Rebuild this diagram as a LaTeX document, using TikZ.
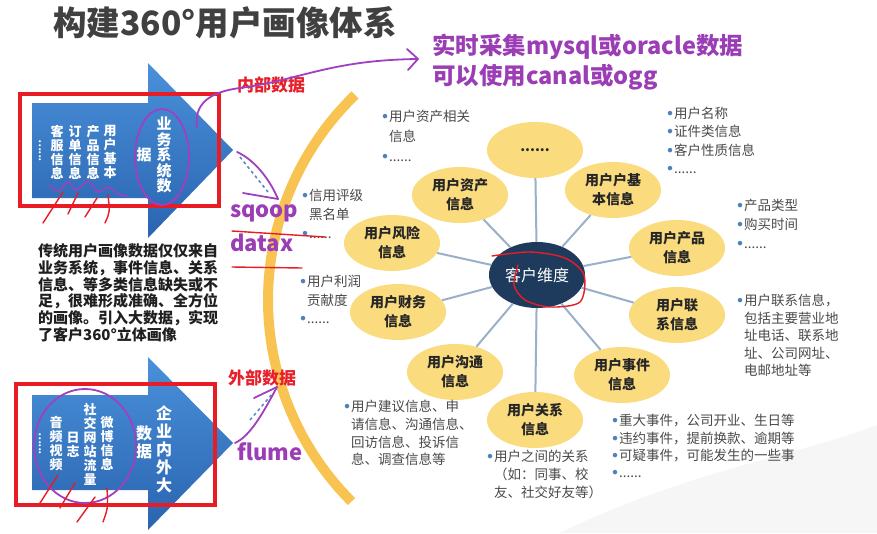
\documentclass[tikz,border=0pt]{standalone}
\usepackage{fontspec}
\setmainfont{Noto Sans CJK SC}
\usetikzlibrary{shapes.geometric}
\definecolor{titlegray}{HTML}{404040}
\definecolor{annpurple}{HTML}{9B3DB5}
\definecolor{handpurple}{HTML}{A040C0}
\definecolor{annred}{HTML}{E8202A}
\definecolor{boxred}{HTML}{E81C24}
\definecolor{arrowtop}{HTML}{4A90DA}
\definecolor{arrowbot}{HTML}{2A64B0}
\definecolor{arcyellow}{HTML}{F8C350}
\definecolor{ellfill}{HTML}{FADB7E}
\definecolor{navy}{HTML}{1E3A5C}
\definecolor{conncol}{HTML}{9AB0C8}
\definecolor{txtgray}{HTML}{4A4A4A}
\definecolor{bulblue}{HTML}{4F81BD}
\definecolor{dashblue}{HTML}{5A8AC0}
\newcommand\bu{\makebox[8pt][c]{\makebox[0pt]{\raisebox{3pt}{\textcolor{bulblue}{\fontsize{5}{5}\selectfont ●}}}}}
\newcommand\ind{\hspace*{8pt}}
\tikzset{
  ell/.style={ellipse, fill=ellfill, minimum width=96pt, minimum height=56pt, inner sep=0pt, align=center, font=\bfseries\fontsize{14}{19}\selectfont, text=black!85},
  vt/.style={align=center, text=white, font=\bfseries\fontsize{13}{14}\selectfont, inner sep=0pt},
  vtbig/.style={align=center, text=white, font=\bfseries\fontsize{15}{15.5}\selectfont, inner sep=0pt},
  blist/.style={align=left, anchor=north west, text=txtgray, inner sep=0pt},
  conn/.style={draw=conncol, line width=2pt},
  hand/.style={draw=handpurple, line width=1.8pt, line cap=round, line join=round},
  redhand/.style={draw=boxred, line width=1.4pt, line cap=round, line join=round},
  redbox/.style={draw=boxred, line width=4pt},
  purtext/.style={text=annpurple, font=\bfseries\fontsize{22}{24}\selectfont, inner sep=0pt, anchor=west},
  redtext/.style={text=annred, font=\bfseries\fontsize{17}{18}\selectfont, inner sep=0pt, anchor=west},
  dashline/.style={draw=dashblue, line width=1.5pt, dashed},
}
\begin{document}
\begin{tikzpicture}[x=1pt,y=-1pt]
\useasboundingbox (0,0) rectangle (877,533);
\fill[white] (0,0) rectangle (877,533);
% faint background swoosh
\fill[gray!7] (560,533) .. controls (690,470) and (800,455) .. (877,425) -- (877,533) -- cycle;

% title
\node[text=titlegray, font=\bfseries\fontsize{33.5}{35}\selectfont, inner sep=0pt] (title) at (225,23) {构建360°用户画像体系};

% annotation text top right
\node[purtext, font=\bfseries\fontsize{23.5}{25}\selectfont] (rt1) at (432,47) {实时采集mysql或oracle数据};
\node[purtext, font=\bfseries\fontsize{23.5}{25}\selectfont] (rt2) at (432,77) {可以使用canal或ogg};

% yellow arc
\draw[arcyellow, line width=10pt] plot[domain=134:225, samples=50] ({553+285*cos(\x)},{300-285*sin(\x)});

% upper block arrow
\shade[top color=arrowtop, bottom color=arrowbot] (32,103) -- (148,103) -- (148,63) -- (233,150) -- (148,238) -- (148,198) -- (32,198) -- cycle;
\node[vt] (u1) at (110,152) {用\\户\\基\\本};
\node[vt] (u2) at (93,152) {产\\品\\信\\息};
\node[vt] (u3) at (75,152) {订\\单\\信\\息};
\node[vt] (u4) at (57,152) {客\\服\\信\\息};
\node[vt, rotate=90, font=\bfseries\fontsize{10}{10}\selectfont] (u5) at (40,151) {......};
\node[vtbig] (u6) at (164,155) {业\\务\\系\\统\\数};
\node[vtbig] (u7) at (144,155) {据};

% lower block arrow
\shade[top color=arrowtop, bottom color=arrowbot] (32,395) -- (148,395) -- (148,357) -- (233,443) -- (148,530) -- (148,490) -- (32,490) -- cycle;
\node[vtbig, font=\bfseries\fontsize{16}{18}\selectfont] (l1) at (164,449) {企\\业\\内\\外\\大};
\node[vtbig, font=\bfseries\fontsize{16}{18}\selectfont] (l2) at (144,442) {数\\据};
\node[vt] (l3) at (107,443) {微\\博\\信\\息};
\node[vt] (l4) at (90,444) {社\\交\\网\\站\\流\\量};
\node[vt] (l5) at (73,445) {日\\志};
\node[vt] (l6) at (56,444) {音\\频\\视\\频};
\node[vt, rotate=90, font=\bfseries\fontsize{10}{10}\selectfont] (l7) at (40,444) {......};

% red boxes
\draw[redbox] (20,94) rectangle (219,206);
\draw[redbox] (16,384) rectangle (215,505);

% paragraph
\node[align=left, anchor=north west, inner sep=0pt, text=black!88, font=\bfseries\fontsize{15}{16.9}\selectfont] (para) at (38,243)
 {传统用户画像数据仅仅来自\\业务系统，事件信息、关系\\信息、等多类信息缺失或不\\足，很难形成准确、全方位\\的画像。引入大数据，实现\\了客户360°立体画像};

% red labels
\node[redtext] (nb) at (237,85) {内部数据};
\node[redtext] (wb) at (228,378) {外部数据};

% purple tool names
\node[purtext] (sq) at (230,213) {sqoop};
\node[purtext] (dx) at (230,243) {datax};
\node[purtext] (fl) at (237,452) {flume};

% satellites
\node[ell] (e0) at (535,150) {......};
\node[ell] (e1) at (613,190) {用户户基\\本信息};
\node[ell] (e2) at (677,248) {用户产品\\信息};
\node[ell] (e3) at (677,315) {用户联\\系信息};
\node[ell] (e4) at (622,375) {用户事件\\信息};
\node[ell] (e5) at (535,420) {用户关系\\信息};
\node[ell] (e6) at (455,372) {用户沟通\\信息};
\node[ell] (e7) at (398,312) {用户财务\\信息};
\node[ell] (e8) at (392,243) {用户风险\\信息};
\node[ell] (e9) at (460,195) {用户资产\\信息};
% central node
\node[ellipse, fill=navy, minimum width=96pt, minimum height=66pt, inner sep=0pt, text=white, font=\fontsize{16}{18}\selectfont] (c) at (537,275) {客户维度};
\foreach \e in {e0,e1,e2,e3,e4,e5,e6,e7,e8,e9} \draw[conn] (c) -- (\e);

% bullet lists
\node[blist, font=\fontsize{13.5}{20}\selectfont] (ba) at (381,110) {\bu 用户资产相关\\\ind 信息\\\bu ......};
\node[blist, font=\fontsize{13.5}{19}\selectfont] (bb) at (301,189) {\bu 信用评级\\\ind 黑名单\\\bu ......};
\node[blist, font=\fontsize{13.5}{18.5}\selectfont] (bc) at (299,275) {\bu 用户利润\\\ind 贡献度\\\bu ......};
\node[blist, font=\fontsize{13.5}{17.7}\selectfont] (bd) at (343,400) {\bu 用户建议信息、申\\\ind 请信息、沟通信息、\\\ind 回访信息、投诉信\\\ind 息、调查信息等};
\node[blist, font=\fontsize{13.5}{18}\selectfont] (be) at (486,450) {\bu 用户之间的关系\\\ind （如：同事、校\\\ind 友、社交好友等）};
\node[blist, font=\fontsize{13.5}{17.4}\selectfont] (bf) at (611,414) {\bu 重大事件，公司开业、生日等\\\bu 违约事件，提前换款、逾期等\\\bu 可疑事件，可能发生的一些事\\\bu ......};
\node[blist, font=\fontsize{13.5}{17.5}\selectfont] (bg) at (736,294) {\bu 用户联系信息，\\\ind 包括主要营业地\\\ind 址电话、联系地\\\ind 址、公司网址、\\\ind 电邮地址等};
\node[blist, font=\fontsize{13.5}{19}\selectfont] (bh) at (736,199) {\bu 产品类型\\\bu 购买时间\\\bu ......};
\node[blist, font=\fontsize{13.5}{18.3}\selectfont] (bi) at (666,107) {\bu 用户名称\\\bu 证件类信息\\\bu 客户性质信息\\\bu ......};

% ---- hand annotations ----
% dashed blue arrows
\draw[dashline] (240,157) -- (268,192);
\draw[dashline] (250,420) -- (273,393);
% upper purple ellipse and curve to note
\draw[hand] (162,157) ellipse [x radius=27pt, y radius=48pt];
\coordinate (p0) at (197,127);
\coordinate (p1) at (418,59);
\draw[hand] (p0) .. controls (194,105) and (208,92) .. (240,88) .. controls (300,80) and (330,60) .. (p1);
\draw[hand] (407,49) -- (p1) -- (408,70);
% upper purple arrow to arc
\coordinate (q0) at (237,152);
\coordinate (q1) at (278,199);
\draw[hand] (q0) .. controls (255,160) and (270,180) .. (q1);
\draw[hand] (243,193) -- (q1);
% lower purple arrow to arc
\coordinate (r0) at (235,443);
\coordinate (r1) at (277,387);
\draw[hand] (r0) .. controls (250,436) and (262,415) .. (r1);
\draw[hand] (254,398) -- (r1);
% lower purple ellipse
\draw[hand] (85,446) ellipse [x radius=51pt, y radius=57pt];
% purple wavy underline upper
\draw[hand, line width=1.5pt] plot[smooth] coordinates {(50,185) (58,191) (68,182) (76,190) (88,181) (98,192) (108,187) (118,194) (127,196)};
% red slashes upper
\draw[redhand] (43,223) -- (63,192);
\draw[redhand] (68,214) -- (78,193);
\draw[redhand] (85,217) -- (97,198);
\draw[redhand] (105,223) .. controls (110,212) .. (108,195);
% red slashes lower
\draw[redhand] (40,503) -- (58,475);
\draw[redhand] (60,508) -- (75,483);
\draw[redhand] (77,522) -- (95,497);
\draw[redhand] (103,522) .. controls (108,508) .. (107,488);
% red underlines near sqoop/datax
\draw[redhand] (232,231) -- (325,237);
\draw[redhand] (232,267) -- (302,268);
% red hand circle around center
\draw[redhand] plot[smooth] coordinates {(492,256) (530,252) (565,258) (584,275) (580,302) (550,307) (525,300) (514,285) (518,265)};
\end{tikzpicture}
\end{document}
